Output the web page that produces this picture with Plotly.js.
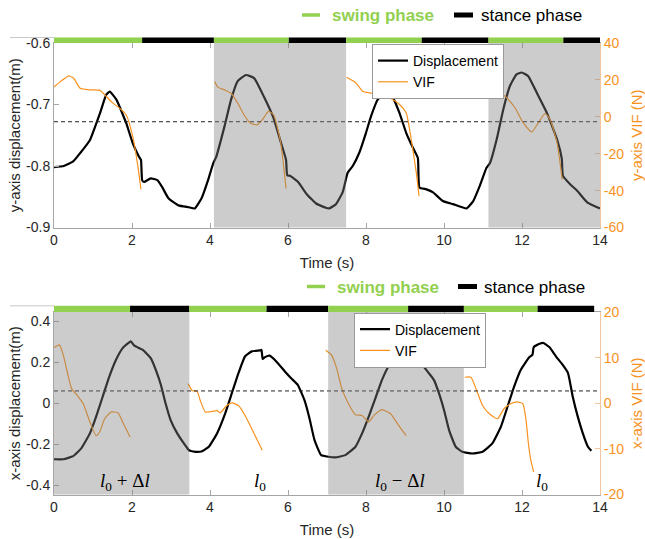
<!DOCTYPE html>
<html>
<head>
<meta charset="utf-8">
<script src="https://cdn.plot.ly/plotly-3.0.1.min.js"></script>
<style>html,body{margin:0;padding:0;background:#fff}#chart{width:645px;height:539px}</style>
</head>
<body>
<div id="chart"></div>
<script>
// ---------- DATA ----------
// Top subplot (y-axis)
const topDispT = [0,0.25,0.5,0.67,0.92,1.18,1.34,1.43,1.6,1.85,2.02,2.18,2.23,2.26,2.31,2.48,2.65,2.77,2.94,3.19,3.45,3.61,3.78,3.95,4.08,4.16,4.37,4.54,4.71,4.92,5.13,5.38,5.63,5.8,5.95,5.98,6.05,6.26,6.47,6.72,6.97,7.06,7.23,7.4,7.53,7.66,7.83,8.0,8.13,8.3,8.47,8.56,8.69,8.86,9.03,9.2,9.33,9.37,9.55,9.72,9.97,10.23,10.58,10.75,10.92,11.09,11.18,11.35,11.52,11.69,11.86,11.99,12.16,12.38,12.64,12.9,13.02,13.05,13.24,13.41,13.67,14.0];
const topDispY = [-0.802,-0.800,-0.792,-0.779,-0.758,-0.714,-0.684,-0.679,-0.692,-0.730,-0.763,-0.785,-0.790,-0.823,-0.826,-0.820,-0.823,-0.834,-0.853,-0.864,-0.867,-0.869,-0.853,-0.823,-0.796,-0.785,-0.736,-0.692,-0.662,-0.652,-0.657,-0.687,-0.722,-0.758,-0.790,-0.815,-0.816,-0.826,-0.845,-0.861,-0.868,-0.869,-0.862,-0.843,-0.811,-0.800,-0.778,-0.746,-0.719,-0.692,-0.684,-0.682,-0.689,-0.714,-0.746,-0.770,-0.787,-0.835,-0.838,-0.843,-0.857,-0.862,-0.869,-0.857,-0.832,-0.803,-0.795,-0.757,-0.708,-0.670,-0.651,-0.648,-0.654,-0.681,-0.714,-0.757,-0.788,-0.816,-0.830,-0.840,-0.859,-0.869];
const topVifT = [0,0.17,0.38,0.5,0.67,0.92,1.18,1.34,1.51,1.68,1.85,2.02,2.14,2.23,null,
  4.12,4.2,4.37,4.54,4.71,4.87,5.04,5.21,5.34,5.5,5.63,5.8,5.88,5.95,null,
  7.5,7.74,7.91,8.09,8.34,8.6,8.86,9.03,9.16,9.29,9.36,null,
  11.07,11.18,11.35,11.61,11.82,12.03,12.25,12.42,12.59,12.72,12.9,13.03];
const topVifV = [16.1,19.2,22.2,21,15.5,14.6,14.3,11,7.4,4.7,1.1,-10.7,-25.2,-39.3,null,
  19.2,16.1,14.6,12.8,7.4,1.1,-3.5,-4.4,-1.7,2.9,1.1,-12.5,-25.2,-38.8,null,
  21.4,18.4,13.9,13,12.4,10.3,6.7,2.2,-12.3,-30.3,-42.9,null,
  24.1,20.2,14.8,10.3,4.9,-3.2,-8.3,-3.2,1.8,-1.4,-14.1,-33.9];
const topMean = -0.728;
const topPhaseEdges = [0,2.26,4.1,6.02,7.49,9.43,11.14,13.06,14];
const topShade = [[4.1,7.49],[11.14,14]];

// Bottom subplot (x-axis)
const botDispT = [0,0.24,0.49,0.7,0.92,1.08,1.25,1.42,1.59,1.76,1.93,1.97,2.06,2.27,2.48,2.61,2.74,2.86,2.99,3.16,3.33,3.46,3.63,3.8,3.97,4.18,4.39,4.56,4.73,4.9,5.07,5.28,5.32,5.35,5.41,5.53,5.7,5.92,6.08,6.25,6.42,6.55,6.68,6.85,7.04,7.21,7.47,7.73,7.9,8.07,8.24,8.41,8.58,8.67,8.88,9.03,9.23,9.4,9.61,9.74,9.87,10.0,10.13,10.3,10.47,10.73,10.99,11.24,11.46,11.63,11.8,11.97,12.19,12.27,12.3,12.45,12.55,12.7,12.87,13.04,13.18,13.3,13.43,13.56,13.69,13.78];
const botDispY = [-0.273,-0.273,-0.258,-0.22,-0.147,-0.065,0.033,0.131,0.212,0.269,0.297,0.302,0.281,0.261,0.22,0.163,0.09,0.0,-0.082,-0.147,-0.196,-0.229,-0.237,-0.234,-0.212,-0.147,-0.049,0.049,0.147,0.229,0.253,0.258,0.26,0.216,0.225,0.232,0.204,0.155,0.122,0.09,0.016,-0.073,-0.18,-0.253,-0.261,-0.264,-0.253,-0.212,-0.147,-0.065,0.024,0.114,0.18,0.193,0.209,0.212,0.225,0.196,0.147,0.114,0.049,-0.033,-0.131,-0.212,-0.237,-0.245,-0.237,-0.196,-0.114,-0.016,0.082,0.163,0.225,0.237,0.274,0.29,0.294,0.274,0.229,0.188,0.147,0.033,-0.065,-0.147,-0.212,-0.232];
const botVifT = [0,0.14,0.24,0.36,0.45,0.58,0.75,0.92,1.08,1.17,1.3,1.47,1.64,1.76,1.95,null,
  3.44,3.54,3.67,3.75,3.88,4.05,4.18,4.26,4.43,4.56,4.73,4.9,5.07,5.34,null,
  6.97,7.12,7.25,7.38,7.55,7.73,7.9,8.07,8.2,8.41,8.63,8.84,9.03,null,
  10.53,10.69,10.82,10.99,11.16,11.37,11.54,11.71,11.88,12.02,12.1,12.16,12.22,12.3];
const botVifV = [12.2,12.8,10.5,6.1,3.2,1.9,-0.1,-4.1,-7.1,-6.3,-3.4,-1.9,-2.1,-4.1,-7.4,null,
  4.3,2.8,2.6,0.6,-1.9,-1.8,-1.6,-2.1,-0.5,0.1,-0.5,-2.7,-5.6,-10.3,null,
  11.6,10.5,7.6,3.2,-0.1,-2.5,-2.7,-4.1,-2.7,-1.4,-2.3,-4.9,-7.1,null,
  5.7,5.7,3.2,-0.5,-2.3,-3.4,-1.2,-0.1,0.3,-0.1,-3.4,-8.5,-12.2,-15.1];
const botMean = 0.06;
const botPhaseEdges = [0,1.95,3.47,5.45,7.03,9.08,10.51,12.4,13.85];
const botShade = [[0,3.47],[7.03,10.51]];
const botLabelsX = [1.82,5.28,8.87,12.5];
const botLabelsText = ['<i>l</i><sub>0</sub> + Δ<i>l</i>','<i>l</i><sub>0</sub>','<i>l</i><sub>0</sub> − Δ<i>l</i>','<i>l</i><sub>0</sub>'];

// Ticks
const xTicks = [0,2,4,6,8,10,12,14];
const topYTicks = [-0.9,-0.8,-0.7,-0.6];
const topYLabels = ['-0.9','-0.8','-0.7','-0.6'];
const topVifTicks = [-60,-40,-20,0,20,40];
const topVifLabels = ['-60','-40','-20','0','20','40'];
const botYTicks = [-0.4,-0.2,0,0.2,0.4];
const botYLabels = ['-0.4','-0.2','0','0.2','0.4'];
const botVifTicks = [-20,-10,0,10,20];
const botVifLabels = ['-20','-10','0','10','20'];

// ---------- STYLE ----------
const GREEN = '#92d050', ORANGE = '#f7921e', AXIS = '#a6a6a6', TXT = '#262626';
const FONT = 'Arial, "Liberation Sans", sans-serif';
const H = 539, L = 54, PW = 546;
const py = p => 1 - p / H;           // pixel y -> paper
const px = p => (p - L) / PW;        // pixel x -> paper

const traces = [
  {x: topDispT, y: topDispY, xaxis:'x', yaxis:'y', type:'scatter', mode:'lines', name:'Displacement',
   line:{color:'#000', width:2.2, shape:'spline', smoothing:0.4}, legend:'legend'},
  {x: topVifT, y: topVifV, xaxis:'x', yaxis:'y2', type:'scatter', mode:'lines', name:'VIF',
   line:{color:ORANGE, width:1.2, shape:'spline', smoothing:0.5}, connectgaps:false, legend:'legend'},
  {x: botDispT, y: botDispY, xaxis:'x2', yaxis:'y3', type:'scatter', mode:'lines', name:'Displacement',
   line:{color:'#000', width:2.2, shape:'spline', smoothing:0.4}, legend:'legend2'},
  {x: botVifT, y: botVifV, xaxis:'x2', yaxis:'y4', type:'scatter', mode:'lines', name:'VIF',
   line:{color:ORANGE, width:1.2, shape:'spline', smoothing:0.5}, connectgaps:false, legend:'legend2'}
];

const shapes = [];
function phaseBar(edges, xref, y0, y1){
  for (let i = 0; i < edges.length - 1; i++){
    shapes.push({type:'rect', xref:xref, yref:'paper', x0:edges[i], x1:edges[i+1], y0:y0, y1:y1,
      fillcolor: i % 2 === 0 ? GREEN : '#000', line:{width:0}, layer:'above'});
  }
}
phaseBar(topPhaseEdges, 'x', py(43), py(37.5));
phaseBar(botPhaseEdges, 'x2', py(312), py(305.8));
// thin frame line left of phase bars
shapes.push({type:'line', xref:'paper', yref:'paper', x0:px(10), x1:0, y0:py(37.5), y1:py(37.5), line:{color:'#c8c8c8', width:1}});
shapes.push({type:'line', xref:'paper', yref:'paper', x0:px(10), x1:0, y0:py(305.8), y1:py(305.8), line:{color:'#c8c8c8', width:1}});
// mean dashed lines
shapes.push({type:'line', xref:'x domain', yref:'y', x0:0, x1:1, y0:topMean, y1:topMean, line:{color:'#222', width:1, dash:'4px,3px'}, layer:'above'});
shapes.push({type:'line', xref:'x2 domain', yref:'y3', x0:0, x1:1, y0:botMean, y1:botMean, line:{color:'#222', width:1, dash:'4px,3px'}, layer:'above'});
// shading (semi-transparent overlay)
topShade.forEach(s => shapes.push({type:'rect', xref:'x', yref:'y domain', x0:s[0], x1:s[1], y0:0, y1:1,
  fillcolor:'rgba(128,128,128,0.4)', line:{width:0}, layer:'above'}));
botShade.forEach(s => shapes.push({type:'rect', xref:'x2', yref:'y3 domain', x0:s[0], x1:s[1], y0:0, y1:1,
  fillcolor:'rgba(128,128,128,0.4)', line:{width:0}, layer:'above'}));
// phase legend keys
function phaseKey(gx0, gx1, bx0, bx1, yc){
  shapes.push({type:'line', xref:'paper', yref:'paper', x0:px(gx0), x1:px(gx1), y0:py(yc), y1:py(yc), line:{color:GREEN, width:3.5}});
  shapes.push({type:'line', xref:'paper', yref:'paper', x0:px(bx0), x1:px(bx1), y0:py(yc), y1:py(yc), line:{color:'#000', width:5}});
}
phaseKey(302, 320, 454, 473, 15);
phaseKey(307, 325, 458, 477, 286.5);

const annotations = [];
function phaseText(sx, tx, yc){
  annotations.push({xref:'paper', yref:'paper', x:px(sx), y:py(yc), xanchor:'left', yanchor:'middle', showarrow:false,
    text:'<b>swing phase</b>', font:{family:FONT, size:17, color:GREEN}});
  annotations.push({xref:'paper', yref:'paper', x:px(tx), y:py(yc), xanchor:'left', yanchor:'middle', showarrow:false,
    text:'stance phase', font:{family:FONT, size:17, color:'#000'}});
}
phaseText(330, 479, 15);
phaseText(335, 482, 287);
botLabelsX.forEach((x, i) => annotations.push({xref:'x2', yref:'y3', x:x, y:-0.385, showarrow:false,
  xanchor:'center', yanchor:'middle', text:botLabelsText[i],
  font:{family:'"Liberation Serif", "Times New Roman", serif', size:19, color:'#000'}}));

const xCommon = {range:[0,14], tickvals:xTicks, ticks:'inside', ticklen:5, tickcolor:AXIS, showline:true, linecolor:AXIS,
  mirror:'ticks', showgrid:false, zeroline:false, tickfont:{family:FONT, size:14, color:TXT}, domain:[0,1],
  title:{text:'Time (s)', font:{family:FONT, size:15, color:TXT}, standoff:10}};
const yLeft = (range, tv, tt, dom, title) => ({range:range, domain:dom, tickvals:tv, ticktext:tt, ticks:'inside', ticklen:5,
  tickcolor:AXIS, showline:true, linecolor:AXIS, showgrid:false, zeroline:false,
  tickfont:{family:FONT, size:14, color:TXT}, title:{text:title, font:{family:FONT, size:15, color:TXT}, standoff:1}});
const yRight = (range, tv, tt, over, title) => ({range:range, overlaying:over, side:'right', tickvals:tv, ticktext:tt,
  ticks:'inside', ticklen:5, tickcolor:'#f4c49a', showline:true, linecolor:'#f4c49a', showgrid:false, zeroline:false,
  tickfont:{family:FONT, size:14, color:ORANGE}, title:{text:title, font:{family:FONT, size:15, color:ORANGE}, standoff:9}});

const topDom = [py(227.5), py(43)];
const botDom = [py(494.5), py(312)];

const layout = {
  width:645, height:539, margin:{l:L, r:45, t:0, b:0}, paper_bgcolor:'#fff', plot_bgcolor:'#fff',
  font:{family:FONT, color:TXT},
  xaxis: Object.assign({}, xCommon, {anchor:'y'}),
  yaxis: yLeft([-0.9,-0.6], topYTicks, topYLabels, topDom, 'y-axis displacement(m)'),
  yaxis2: yRight([-60,40], topVifTicks, topVifLabels, 'y', 'y-axis VIF (N)'),
  xaxis2: Object.assign({}, xCommon, {anchor:'y3'}),
  yaxis3: yLeft([-0.445,0.445], botYTicks, botYLabels, botDom, 'x-axis displacement(m)'),
  yaxis4: Object.assign(yRight([-20,20], botVifTicks, botVifLabels, 'y3', 'x-axis VIF (N)'), {anchor:'x2'}),
  legend:{x:px(372), y:py(44), xanchor:'left', yanchor:'top', bgcolor:'#fff', bordercolor:'#999', borderwidth:1,
    font:{family:FONT, size:14, color:'#000'}, itemwidth:30, tracegroupgap:0},
  legend2:{x:px(354), y:py(312.5), xanchor:'left', yanchor:'top', bgcolor:'#fff', bordercolor:'#999', borderwidth:1,
    font:{family:FONT, size:14, color:'#000'}, itemwidth:30, tracegroupgap:0},
  shapes:shapes, annotations:annotations, showlegend:true
};
layout.yaxis2.anchor = 'x';

Plotly.newPlot('chart', traces, layout, {staticPlot:true, displayModeBar:false});
</script>
</body>
</html>
